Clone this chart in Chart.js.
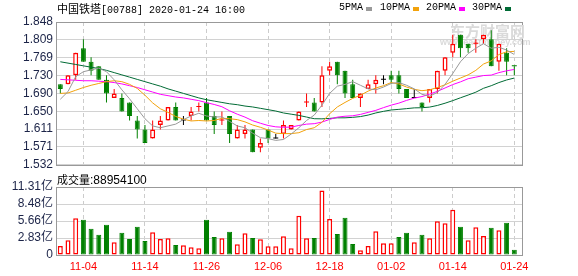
<!DOCTYPE html>
<html><head><meta charset="utf-8">
<script src="https://cdn.jsdelivr.net/npm/chart.js@4.4.0/dist/chart.umd.min.js"></script>
<style>
html,body{margin:0;padding:0;background:#fff;}
body{width:578px;height:276px;position:relative;overflow:hidden;}
canvas{position:absolute;left:0;}
#main{top:0;}
#vol{top:170px;}
.t{position:absolute;white-space:nowrap;color:#000;line-height:14px;}
.mono{font-family:"Liberation Mono","Noto Sans CJK SC",monospace;font-size:10px;}
.cjk{font-family:"Noto Sans CJK SC",sans-serif;font-size:11px;}
.sq{position:absolute;width:6px;height:4px;}
</style></head><body>
<canvas id="main" width="578" height="175"></canvas>
<canvas id="vol" width="578" height="106"></canvas>
<div class="t mono" id="title" style="left:57px;top:1px;"></div>
<div id="legend"></div>
<div class="t" id="vlabel" style="left:57px;top:171px;font:12px 'Liberation Sans',sans-serif;"></div>
<script>
// ---------------- data ----------------
const stockName = '中国铁塔';
const titleRest = '[00788] 2020-01-24 16:00';
const dates = ['10-30','10-31','11-01','11-04','11-05','11-06','11-07','11-08','11-11','11-12',
 '11-13','11-14','11-15','11-18','11-19','11-20','11-21','11-22','11-25','11-26',
 '11-27','11-28','11-29','12-02','12-03','12-04','12-05','12-06','12-09','12-10',
 '12-11','12-12','12-13','12-16','12-17','12-18','12-19','12-20','12-23','12-24',
 '12-27','12-30','12-31','01-02','01-03','01-06','01-07','01-08','01-09','01-10',
 '01-13','01-14','01-15','01-16','01-17','01-20','01-21','01-22','01-23','01-24'];
const openP = [1.71,1.71,1.73,1.79,1.76,1.75,1.72,1.68,1.68,1.67, 1.63,1.61,1.59,1.62,1.63,1.66,1.63,1.64,1.66,1.67,
 1.64,1.63,1.64,1.59,1.60,1.61,1.57,1.61,1.59,1.60, 1.61,1.63,1.67,1.67,1.67,1.74,1.76,1.74,1.71,1.68,
 1.70,1.71,1.72,1.73,1.73,1.70,1.68,1.67,1.68,1.70, 1.74,1.78,1.82,1.80,1.80,1.81,1.81,1.76,1.78,1.75];
const highP = [1.71,1.73,1.78,1.81,1.77,1.75,1.73,1.70,1.69,1.67, 1.64,1.62,1.63,1.64,1.66,1.67,1.64,1.66,1.67,1.68,
 1.65,1.65,1.64,1.62,1.62,1.61,1.59,1.61,1.60,1.63, 1.62,1.65,1.69,1.68,1.75,1.76,1.76,1.74,1.72,1.69,
 1.72,1.73,1.73,1.74,1.74,1.70,1.70,1.67,1.70,1.74, 1.77,1.82,1.82,1.80,1.81,1.82,1.83,1.80,1.79,1.75];
const lowP = [1.69,1.71,1.72,1.76,1.73,1.72,1.67,1.68,1.65,1.63, 1.59,1.58,1.59,1.61,1.63,1.63,1.62,1.63,1.65,1.63,
 1.60,1.62,1.58,1.59,1.59,1.56,1.56,1.58,1.59,1.59, 1.61,1.63,1.66,1.65,1.66,1.73,1.71,1.68,1.68,1.66,
 1.70,1.69,1.71,1.71,1.69,1.68,1.68,1.65,1.67,1.69, 1.73,1.77,1.77,1.78,1.78,1.80,1.75,1.74,1.73,1.73];
const closeP = [1.70,1.73,1.78,1.76,1.74,1.72,1.69,1.69,1.65,1.64, 1.61,1.58,1.61,1.63,1.66,1.63,1.63,1.65,1.66,1.63,
 1.62,1.63,1.60,1.61,1.61,1.56,1.58,1.59,1.59,1.62, 1.62,1.65,1.67,1.65,1.73,1.75,1.73,1.69,1.68,1.69,
 1.71,1.72,1.72,1.72,1.70,1.68,1.68,1.66,1.70,1.74, 1.77,1.80,1.79,1.79,1.80,1.82,1.75,1.80,1.76,1.75];
const prevCloseBefore = 1.69;
const ma5 = [1.677,1.694,1.727,1.738,1.742,1.746,1.738,1.720,1.698,1.678, 1.656,1.634,1.618,1.614,1.618,1.622,1.632,1.640,1.646,1.640,
 1.638,1.638,1.628,1.618,1.614,1.602,1.592,1.590,1.586,1.588, 1.600,1.614,1.630,1.642,1.664,1.690,1.706,1.710,1.716,1.708,
 1.700,1.698,1.704,1.712,1.714,1.708,1.700,1.688,1.684,1.692, 1.710,1.734,1.760,1.778,1.790,1.800,1.790,1.792,1.786,1.776];
const ma10 = [1.690,1.691,1.697,1.703,1.708,1.712,1.716,1.718,1.716,1.710, 1.701,1.686,1.669,1.656,1.648,1.639,1.633,1.629,1.630,1.629,
 1.630,1.635,1.634,1.632,1.627,1.620,1.615,1.609,1.602,1.601, 1.601,1.603,1.610,1.614,1.626,1.645,1.660,1.670,1.679,1.686,
 1.695,1.702,1.707,1.714,1.711,1.704,1.699,1.696,1.698,1.703, 1.709,1.717,1.724,1.731,1.741,1.755,1.762,1.776,1.782,1.783];
const ma20 = [1.721,1.720,1.719,1.718,1.718,1.717,1.716,1.714,1.711,1.707, 1.703,1.698,1.693,1.688,1.685,1.682,1.680,1.677,1.674,1.6695,
 1.6655,1.6605,1.6515,1.644,1.6375,1.6295,1.624,1.619,1.616,1.615, 1.6155,1.619,1.622,1.623,1.6265,1.6325,1.6375,1.6395,1.6405,1.6435,
 1.648,1.6525,1.6585,1.664,1.6685,1.6745,1.6795,1.683,1.6885,1.6945, 1.702,1.7095,1.7155,1.7225,1.726,1.7295,1.7305,1.736,1.740,1.743];
const ma30 = [1.760,1.757,1.754,1.751,1.748,1.745,1.741,1.736,1.731,1.726, 1.721,1.716,1.711,1.706,1.700,1.695,1.690,1.685,1.680,1.676,
 1.673,1.670,1.667,1.665,1.662,1.660,1.657,1.654,1.651,1.6467, 1.644,1.6413,1.6377,1.634,1.6337,1.6347,1.636,1.636,1.637,1.6387,
 1.642,1.6467,1.6503,1.6533,1.6547,1.6563,1.658,1.6583,1.6597,1.6633, 1.6683,1.674,1.6803,1.6863,1.6927,1.7013,1.707,1.714,1.7197,1.724];
const volumes = [1.51e8,2.45e8,6.13e8,5.86e8,4.35e8,3.35e8,5.02e8,2.12e8,3.68e8,2.68e8, 4.68e8,2.34e8,3.79e8,2.68e8,2.79e8,1.67e8,1.62e8,1.28e8,1.12e8,5.86e8,
 3.01e8,2.79e8,3.85e8,1.78e8,3.63e8,2.84e8,2.62e8,1.45e8,1.45e8,3.12e8, 1.12e8,6.53e8,2.79e8,2.84e8,10.71e8,5.97e8,3.51e8,6.19e8,1.84e8,0.78e8,
 1.51e8,3.96e8,1.95e8,1.95e8,3.01e8,3.68e8,2.12e8,3.35e8,2.79e8,5.63e8, 5.30e8,7.53e8,4.68e8,2.45e8,4.63e8,3.18e8,4.52e8,4.13e8,5.35e8,88954100];
const volumeLabel = '成交量';
const priceTickLabels = ['1.532','1.571','1.611','1.650','1.690','1.730','1.769','1.809','1.848'];
const priceMin = 1.532, priceMax = 1.848;
const volTickLabels = ['0','2.83亿','5.66亿','8.48亿','11.31亿'];
const volMax = 11.31e8;
const axisDates = ['11-04','11-14','11-26','12-06','12-18','01-02','01-14','01-24'];
const maNames = ['5PMA','10PMA','20PMA','30PMA'];

// ---------------- styles ----------------
const RED = '#ff0000', GREEN = '#008000', BLACK = '#000000';
const maColors = ['#999999','#f2a20c','#ff00ff','#006b35'];
const FONT = '"Liberation Sans","Noto Sans CJK SC",Arial,sans-serif';
const LABEL_COLOR = '#1c2448';
const XMIN = -0.56, XMAX = 60.13;

document.getElementById('title').innerHTML = '<span class="cjk">' + stockName + '</span>' + titleRest;
const legendPos = [[339,366],[380,413],[426,459],[472,505]];
let lg = '';
maNames.forEach((n,k)=>{
  lg += '<div class="t mono" style="left:'+legendPos[k][0]+'px;top:1px;">'+n+'</div>';
  lg += '<div class="sq" style="left:'+legendPos[k][1]+'px;top:7px;background:'+maColors[k]+'"></div>';
});
document.getElementById('legend').innerHTML = lg;
document.getElementById('vlabel').innerHTML = '<span class="cjk">' + volumeLabel + '</span>:' + volumes[volumes.length-1];

function candleColor(i){
  const o = openP[i], c = closeP[i];
  if (c > o) return RED;
  if (c < o) return GREEN;
  const pc = i ? closeP[i-1] : prevCloseBefore;
  return c > pc ? RED : (c < pc ? GREEN : BLACK);
}
function volColor(i){
  const pc = i ? closeP[i-1] : prevCloseBefore;
  return closeP[i] >= pc ? RED : GREEN;
}
const idx = dates.map((d,i)=>i);
const cColors = idx.map(candleColor);
const bodyBg = idx.map(i => closeP[i] > openP[i] ? '#ffffff' : cColors[i]);
const bodyBw = idx.map(i => closeP[i] === openP[i] ? 0 : (closeP[i] > openP[i] ? 1.5 : 1));
const vColors = idx.map(volColor);
const axisIdx = axisDates.map(d => dates.indexOf(d));

const framePlugin = {
  id: 'frame',
  beforeDatasetsDraw(chart){
    const a = chart.chartArea, ctx = chart.ctx;
    ctx.save();
    ctx.strokeStyle = '#999999'; ctx.lineWidth = 1;
    ctx.strokeRect(Math.round(a.left)+0.5, Math.round(a.top)+0.5, Math.round(a.right-a.left)-1, Math.round(a.bottom-a.top));
    ctx.restore();
  }
};
const watermark = {
  id: 'watermark',
  beforeDatasetsDraw(chart){
    const ctx = chart.ctx;
    ctx.save();
    ctx.fillStyle = '#dadada';
    ctx.font = 'bold 15px "Noto Sans CJK SC"';
    ctx.textBaseline = 'middle';
    ctx.fillText('东方财富网', 450, 31);
    ctx.font = 'bold 9px "Liberation Sans"';
    ctx.fillText('www.eastmoney.com', 440, 43);
    ctx.restore();
  }
};

function xScale(showLabels, h){
  return {
    type: 'linear', min: XMIN, max: XMAX, offset: false,
    afterBuildTicks: s => { s.ticks = axisIdx.map(v => ({value: v})); },
    afterFit: s => { s.height = h; },
    ticks: { display: showLabels, autoSkip: false, maxRotation: 0, padding: 5,
      color: RED, font: {family: FONT, size: 11},
      callback: v => dates[v] },
    grid: { color: '#cccccc', lineWidth: 1, drawTicks: false, offset: false },
    border: { display: false, dash: [4,3] }
  };
}
function yScale(min, max, labels){
  return {
    type: 'linear', min: min, max: max,
    afterBuildTicks: s => { s.ticks = labels.map((t,k) => ({value: min + k*(max-min)/(labels.length-1)})); },
    afterFit: s => { s.width = 56; },
    ticks: { padding: 3, autoSkip: false, color: LABEL_COLOR, font: {size: 12}, callback: (v,k) => labels[k] },
    grid: { color: '#d2d2d2', drawTicks: false },
    border: { display: false }
  };
}

Chart.defaults.font.family = FONT;
Chart.defaults.font.size = 12;

const wickData = idx.map(i => ({x: i, y: [lowP[i], highP[i]]}));
const bodyData = idx.map(i => ({x: i, y: [openP[i], closeP[i]]}));
const maSets = [ma5, ma10, ma20, ma30].map((arr,k) => ({
  type: 'line', label: maNames[k], data: idx.map(i => ({x: i, y: arr[i]})),
  borderColor: maColors[k], borderWidth: 1, pointRadius: 0, tension: 0, order: 0
}));

new Chart(document.getElementById('main'), {
  type: 'bar',
  data: { datasets: [
    ...maSets,
    { label: 'body', data: bodyData, grouped: false, maxBarThickness: 5, minBarLength: 1,
      backgroundColor: bodyBg, borderColor: cColors, borderWidth: bodyBw, borderSkipped: false,
      inflateAmount: 0, order: 1 },
    { label: 'wick', data: wickData, grouped: false, maxBarThickness: 1,
      backgroundColor: cColors, borderWidth: 0, inflateAmount: 0, order: 2 }
  ]},
  options: {
    responsive: false, animation: false, events: [],
    layout: { padding: { left: 0, right: 55, top: 22, bottom: 10 } },
    plugins: { legend: { display: false }, tooltip: { enabled: false } },
    scales: { x: xScale(false, 0), y: yScale(priceMin, priceMax, priceTickLabels) }
  },
  plugins: [framePlugin, watermark]
});

new Chart(document.getElementById('vol'), {
  type: 'bar',
  data: { datasets: [
    { label: volumeLabel, data: idx.map(i => ({x: i, y: volumes[i]})), barThickness: 5,
      backgroundColor: idx.map(i => vColors[i] === RED ? '#ffffff' : GREEN),
      borderColor: vColors, borderWidth: idx.map(i => vColors[i] === RED ? 1.5 : 1),
      borderSkipped: false, inflateAmount: 0 }
  ]},
  options: {
    responsive: false, animation: false, events: [],
    layout: { padding: { left: 0, right: 55, top: 17, bottom: 3 } },
    plugins: { legend: { display: false }, tooltip: { enabled: false } },
    scales: { x: xScale(true, 18), y: yScale(0, volMax, volTickLabels) }
  },
  plugins: [framePlugin]
});
</script>
</body></html>
